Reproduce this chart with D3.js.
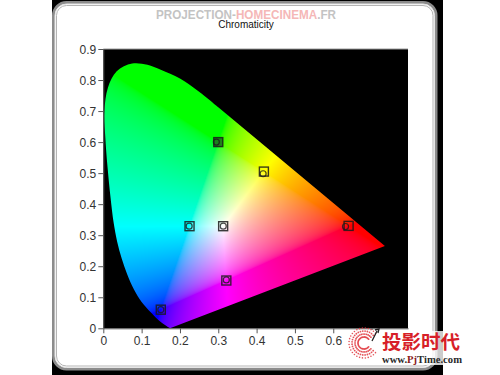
<!DOCTYPE html>
<html>
<head>
<meta charset="utf-8">
<script src="https://cdn.jsdelivr.net/npm/d3@7"></script>
<style>
  html, body { margin: 0; padding: 0; background: #fff; }
  svg { display: block; }
</style>
</head>
<body>
<svg id="chart" width="500" height="375"></svg>
<script>
// Spectral locus outline (CIE 1931 xy), from the blue corner up the left side and over the top
const locusX = [0.174, 0.150, 0.125, 0.100, 0.080, 0.062, 0.048, 0.036, 0.027, 0.019, 0.011, 0.005, 0.003, 0.012, 0.035, 0.075, 0.115, 0.150, 0.200, 0.250, 0.300];
const locusY = [0.000, 0.020, 0.050, 0.085, 0.125, 0.175, 0.225, 0.280, 0.340, 0.420, 0.520, 0.620, 0.700, 0.775, 0.828, 0.853, 0.849, 0.833, 0.805, 0.762, 0.712];
// Red end of the locus; a straight edge joins it, and the purple line closes the shape
const redEndX = 0.7347;
const redEndY = 0.2653;

// Reference and measured chromaticities
const pointNames = ["Red", "Green", "Blue", "Cyan", "Magenta", "Yellow", "White"];
const targetX = [0.640, 0.300, 0.150, 0.225, 0.321, 0.419, 0.3127];
const targetY = [0.330, 0.600, 0.060, 0.329, 0.154, 0.505, 0.3290];
const measuredX = [0.632, 0.295, 0.150, 0.224, 0.321, 0.417, 0.313];
const measuredY = [0.328, 0.600, 0.060, 0.329, 0.156, 0.498, 0.329];

const xTicks = [0, 0.1, 0.2, 0.3, 0.4, 0.5, 0.6, 0.7];
const yTicks = [0, 0.1, 0.2, 0.3, 0.4, 0.5, 0.6, 0.7, 0.8, 0.9];

const svg = d3.select("#chart");
const font = "'Liberation Sans', Arial, sans-serif";

// ---- frame ----
svg.append("rect").attr("x", 52).attr("y", 0).attr("width", 391).attr("height", 375).attr("fill", "#000");
svg.append("rect").attr("x", 53.5).attr("y", 2.5).attr("width", 382.5).attr("height", 366.5)
  .attr("rx", 13).attr("fill", "#fff").attr("stroke", "#8c8c8c").attr("stroke-width", 3);
svg.append("rect").attr("x", 55).attr("y", 4).attr("width", 379.5).attr("height", 363.5)
  .attr("rx", 11.5).attr("fill", "none").attr("stroke", "#e6e6e6").attr("stroke-width", 1);
svg.append("rect").attr("x", 56.5).attr("y", 5.5).attr("width", 376.5).attr("height", 360.5)
  .attr("rx", 10).attr("fill", "none").attr("stroke", "#b4b4b4").attr("stroke-width", 1);

// ---- scales ----
const x = d3.scaleLinear().domain([0, 0.795]).range([103.3, 408]);
const y = d3.scaleLinear().domain([0, 0.9]).range([328.3, 49]);

const px0 = x(0), px1 = x(0.795), py0 = y(0.9), py1 = y(0);

// plot background
svg.append("rect").attr("x", px0).attr("y", py0).attr("width", px1 - px0).attr("height", py1 - py0)
  .attr("fill", "#000");
svg.append("line").attr("x1", px0).attr("x2", px1).attr("y1", py0).attr("y2", py0)
  .attr("stroke", "#9a9a9a").attr("stroke-width", 1);

// ---- colour fill of the gamut ----
function xyToRgb(cx, cy) {
  if (cy <= 0.0005) cy = 0.0005;
  const X = cx / cy, Y = 1, Z = (1 - cx - cy) / cy;
  let r = 3.2406 * X - 1.5372 * Y - 0.4986 * Z;
  let g = -0.9689 * X + 1.8758 * Y + 0.0415 * Z;
  let b = 0.0557 * X - 0.2040 * Y + 1.0570 * Z;
  r = Math.max(r, 0); g = Math.max(g, 0); b = Math.max(b, 0);
  const m = Math.max(r, g, b) || 1;
  const gam = v => {
    v = v / m;
    return v <= 0.0031308 ? 12.92 * v : 1.055 * Math.pow(v, 1 / 2.4) - 0.055;
  };
  return [gam(r) * 255, gam(g) * 255, gam(b) * 255];
}

const cw = Math.ceil(px1 - px0), ch = Math.ceil(py1 - py0);
const canvas = document.createElement("canvas");
canvas.width = cw; canvas.height = ch;
const ctx = canvas.getContext("2d");
const img = ctx.createImageData(cw, ch);
for (let j = 0; j < ch; j++) {
  const cy = y.invert(py0 + j + 0.5);
  for (let i = 0; i < cw; i++) {
    const cx = x.invert(px0 + i + 0.5);
    const [r, g, b] = xyToRgb(cx, cy);
    const k = (j * cw + i) * 4;
    img.data[k] = r; img.data[k + 1] = g; img.data[k + 2] = b; img.data[k + 3] = 255;
  }
}
ctx.putImageData(img, 0, 0);

const curve = d3.line().x(d => x(d[0])).y(d => y(d[1])).curve(d3.curveCatmullRom.alpha(0.5));
const locusPts = locusX.map((v, i) => [v, locusY[i]]);
const locusPath = curve(locusPts) + "L" + x(redEndX) + "," + y(redEndY) + "Z";

svg.append("clipPath").attr("id", "locusClip").append("path").attr("d", locusPath);
svg.append("image")
  .attr("x", px0).attr("y", py0).attr("width", cw).attr("height", ch)
  .attr("preserveAspectRatio", "none")
  .attr("href", canvas.toDataURL())
  .attr("clip-path", "url(#locusClip)");

// ---- axes ----
const fmt = d => d === 0 ? "0" : d.toFixed(1);
const yAxis = svg.append("g").attr("transform", `translate(${px0},0)`)
  .call(d3.axisLeft(y).tickValues(yTicks).tickFormat(fmt).tickSize(5).tickSizeOuter(0));
const xAxis = svg.append("g").attr("transform", `translate(0,${py1})`)
  .call(d3.axisBottom(x).tickValues(xTicks).tickFormat(fmt).tickSize(5).tickSizeOuter(0));
[yAxis, xAxis].forEach(a => {
  a.selectAll("path.domain").attr("stroke", "#555");
  a.selectAll(".tick line").attr("stroke", "#555");
  a.selectAll("text").attr("fill", "#333").style("font-family", font).style("font-size", "12px");
});
yAxis.selectAll("text").attr("x", -7).attr("dy", "0.36em");
xAxis.selectAll("text").attr("y", 8);

// ---- markers ----
const markers = svg.append("g");
pointNames.forEach((name, i) => {
  const tx = x(targetX[i]), ty = y(targetY[i]);
  markers.append("rect")
    .attr("x", tx - 4.5).attr("y", ty - 4.5).attr("width", 9).attr("height", 9)
    .attr("fill", name === "Green" ? "#1d6b1d" : "none")
    .attr("fill-opacity", 0.85)
    .attr("stroke", "#1a1a1a").attr("stroke-opacity", 0.85).attr("stroke-width", 1.4);
  markers.append("circle")
    .attr("cx", x(measuredX[i])).attr("cy", y(measuredY[i])).attr("r", 3)
    .attr("fill", "none").attr("stroke", "#1a1a1a").attr("stroke-opacity", 0.8).attr("stroke-width", 1.2);
});

// ---- title and site banner ----
svg.append("text").attr("x", 246).attr("y", 27.5).attr("text-anchor", "middle")
  .style("font-family", font).style("font-size", "10px").attr("fill", "#111")
  .text("Chromaticity");

const banner = svg.append("text").attr("x", 246).attr("y", 18.5).attr("text-anchor", "middle")
  .attr("textLength", 180).attr("lengthAdjust", "spacingAndGlyphs")
  .style("font-family", font).style("font-size", "12px").style("font-weight", "bold")
  .attr("opacity", 0.75);
banner.append("tspan").attr("fill", "#b0b0b0").text("PROJECTION-");
banner.append("tspan").attr("fill", "#f2a0a0").text("HOMECINEMA");
banner.append("tspan").attr("fill", "#b0b0b0").text(".FR");

// ---- site logo, bottom right ----
const logo = svg.append("g");
logo.append("rect").attr("x", 348).attr("y", 330).attr("width", 34).attr("height", 30).attr("fill", "#fff");
logo.append("rect").attr("x", 380).attr("y", 331).attr("width", 84).attr("height", 34)
  .attr("fill", "#fff").attr("opacity", 0.8);
const cxL = 364, cyL = 343;
d3.range(0, 26).forEach(k => {
  const a = (40 + k * 11.2) * Math.PI / 180;
  [6, 9, 12, 15].forEach((r, ri) => {
    logo.append("circle")
      .attr("cx", cxL + r * Math.cos(a)).attr("cy", cyL - r * Math.sin(a))
      .attr("r", ri === 3 ? 0.8 : 0.9).attr("fill", "#e0353c").attr("opacity", 0.85);
  });
});
logo.append("path").attr("d", "M372,341 L377,331 M375,330 L379,329 L378,333")
  .attr("stroke", "#222").attr("stroke-width", 1.3).attr("fill", "none");
logo.append("text").attr("x", 382).attr("y", 348.5)
  .attr("textLength", 78).attr("lengthAdjust", "spacingAndGlyphs")
  .style("font-family", "'Noto Sans CJK SC', sans-serif").style("font-size", "19px").style("font-weight", "bold")
  .attr("fill", "#d71f29").text("投影时代");
const site = logo.append("text").attr("x", 382).attr("y", 363)
  .attr("textLength", 80).attr("lengthAdjust", "spacingAndGlyphs")
  .style("font-family", "'Liberation Serif', serif").style("font-size", "11px").style("font-weight", "bold")
  .attr("fill", "#2a2a2a");
site.append("tspan").text("www.");
site.append("tspan").attr("fill", "#8a1a1a").text("Pj");
site.append("tspan").text("Time.com");
</script>
</body>
</html>
